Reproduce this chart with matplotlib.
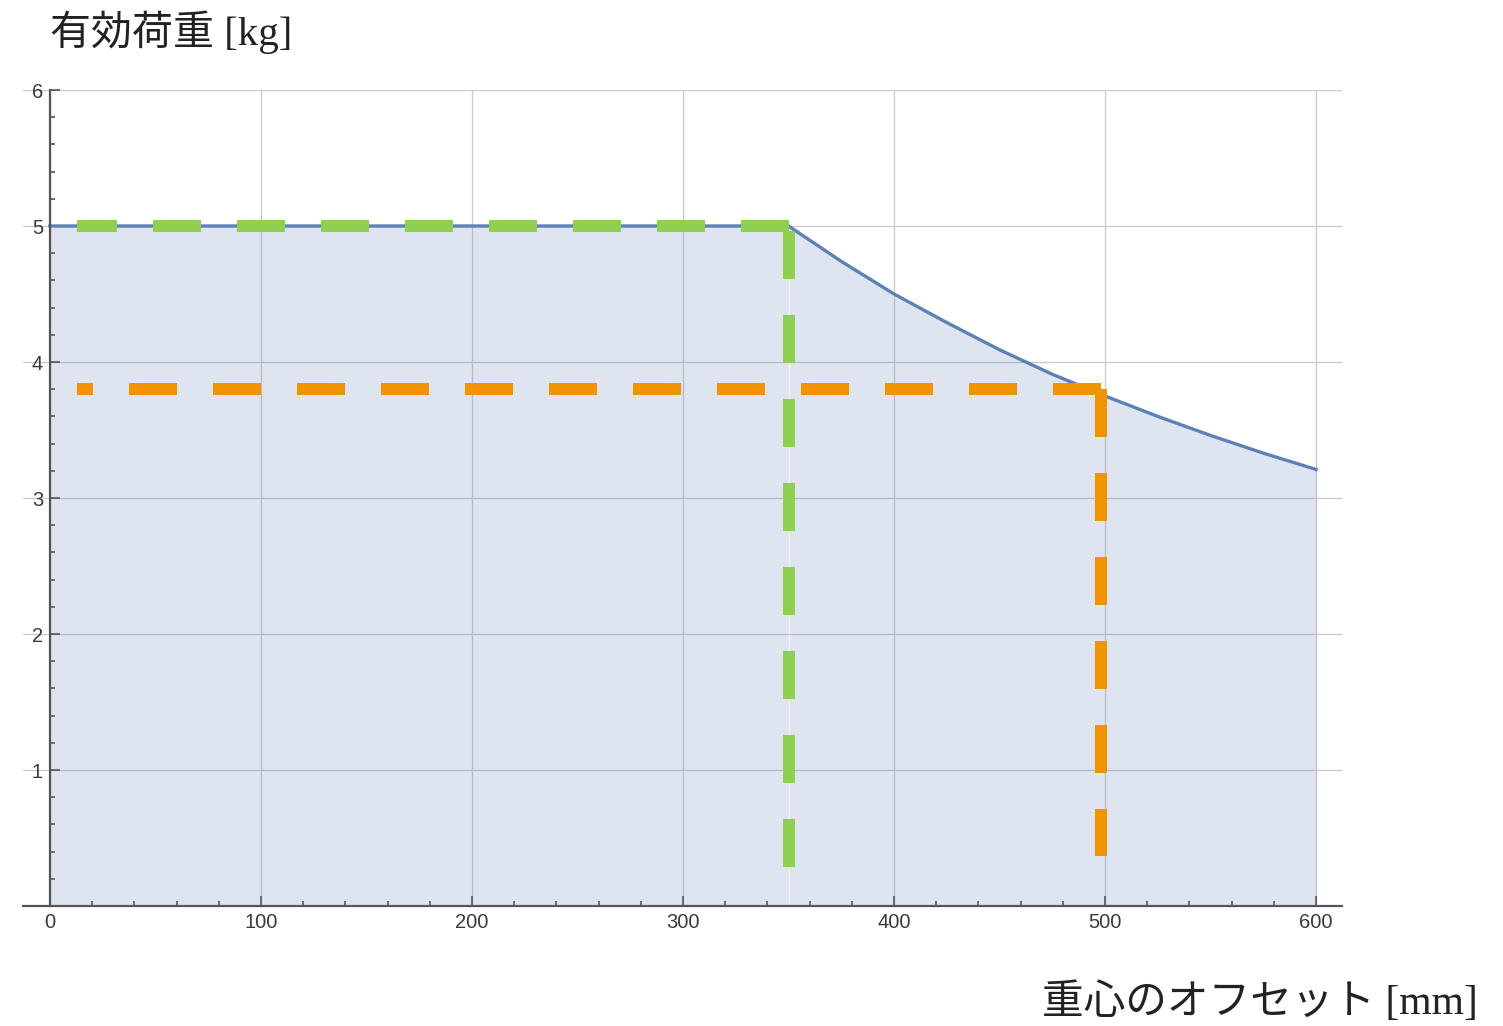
import matplotlib
matplotlib.use("Agg")
import matplotlib.pyplot as plt
from matplotlib.ticker import MultipleLocator, FixedLocator

# ---- data ----
offset_mm = [0, 350, 375, 400, 425, 450, 475, 500, 525, 550, 575, 600]
payload_kg = [5.0, 5.0, 4.74, 4.5, 4.29, 4.09, 3.91, 3.75, 3.6, 3.46, 3.33, 3.21]

# green guide: horizontal at 5 kg back from 350 mm, then down
green_h_x = [350, 13]
green_h_y = [5.0, 5.0]
green_v_x = [350, 350]
green_v_y = [4.96, 0.29]

# orange guide: horizontal at 3.8 kg back from ~498 mm, then down
orange_h_x = [498, 13]
orange_h_y = [3.8, 3.8]
orange_v_x = [498, 498]
orange_v_y = [3.8, 0.37]

x_ticks = [0, 100, 200, 300, 400, 500, 600]
y_ticks = [1, 2, 3, 4, 5, 6]

title_text = "有効荷重 [kg]"
xlabel_text = "重心のオフセット [mm]"

# ---- figure ----
W, H = 1503, 1026
fig = plt.figure(figsize=(W / 100, H / 100), dpi=100)
ax = fig.add_axes([23 / W, 1 - 906 / H, (1342 - 23) / W, (906 - 90) / H])

curve_color = "#5e81b5"
green = "#8fd14f"
orange = "#f29400"

ax.fill_between(offset_mm, payload_kg, 0, color=curve_color, alpha=0.2, lw=0, zorder=1)
ax.plot([350, 350], [0, 5.0], color="white", lw=1.0, alpha=0.5, zorder=1.5)
ax.plot(offset_mm, payload_kg, color=curve_color, lw=2.4, zorder=3)

lw_guide = 8.64
for xs, ys, c in [(green_h_x, green_h_y, green), (green_v_x, green_v_y, green),
                  (orange_h_x, orange_h_y, orange), (orange_v_x, orange_v_y, orange)]:
    ax.plot(xs, ys, color=c, lw=lw_guide, dashes=(4, 3), solid_capstyle="butt",
            dash_capstyle="butt", zorder=4)

ax.set_xlim(-12.8, 612.3)
ax.set_ylim(0, 6)

ax.set_axisbelow(True)
ax.grid(True, which="major", color="#cccccc", lw=1.0, zorder=0)

ax.xaxis.set_major_locator(FixedLocator(x_ticks))
ax.yaxis.set_major_locator(FixedLocator(y_ticks))
ax.xaxis.set_minor_locator(MultipleLocator(20))
ax.yaxis.set_minor_locator(MultipleLocator(0.2))
ax.set_xticklabels([str(v) for v in x_ticks])
ax.set_yticklabels([str(v) for v in y_ticks])

for s in ["top", "right"]:
    ax.spines[s].set_visible(False)
ax.spines["left"].set_position(("data", 0))
for s in ["left", "bottom"]:
    ax.spines[s].set_color("#555555")
    ax.spines[s].set_linewidth(1.6)
    ax.spines[s].set_zorder(5)

ax.tick_params(which="both", direction="in", color="#444444", width=1.1)
ax.tick_params(which="major", length=7, pad=5, labelsize=14.5, labelcolor="#3a3a3a")
ax.tick_params(which="minor", length=3.8)
for lab in ax.get_xticklabels() + ax.get_yticklabels():
    lab.set_fontfamily("Liberation Sans")

fam = ["Liberation Serif", "Noto Sans CJK JP"]
fig.text(50 / W, 1 - 32 / H, title_text, family=fam, fontsize=29.5, color="#222222",
         ha="left", va="center")
fig.text(1478 / W, 1 - 1003 / H, xlabel_text, family=fam, fontsize=30, color="#222222",
         ha="right", va="center")

fig.savefig("out.png", dpi=100)
